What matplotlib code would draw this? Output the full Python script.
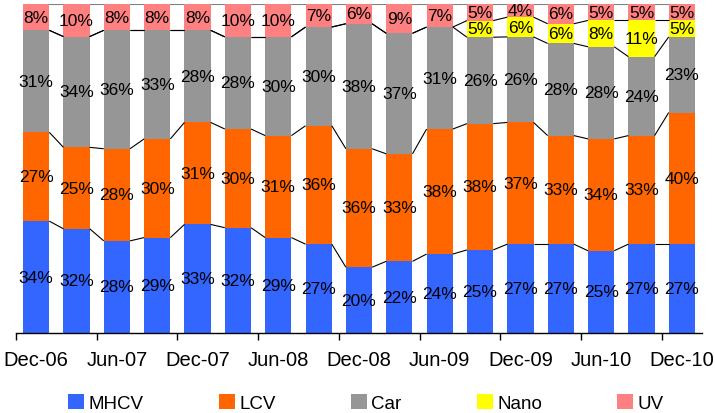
import numpy as np
import matplotlib
matplotlib.use("Agg")
import matplotlib.pyplot as plt
from matplotlib.patches import Patch

plt.rcParams['font.family'] = ['Liberation Sans', 'DejaVu Sans']

periods = ["Dec-06", "Mar-07", "Jun-07", "Sep-07", "Dec-07", "Mar-08", "Jun-08",
           "Sep-08", "Dec-08", "Mar-09", "Jun-09", "Sep-09", "Dec-09", "Mar-10",
           "Jun-10", "Sep-10", "Dec-10"]
mhcv = [34, 32, 28, 29, 33, 32, 29, 27, 20, 22, 24, 25, 27, 27, 25, 27, 27]
lcv  = [27, 25, 28, 30, 31, 30, 31, 36, 36, 33, 38, 38, 37, 33, 34, 33, 40]
car  = [31, 34, 36, 33, 28, 28, 30, 30, 38, 37, 31, 26, 26, 28, 28, 24, 23]
nano = [0, 0, 0, 0, 0, 0, 0, 0, 0, 0, 0, 5, 6, 6, 8, 11, 5]
uv   = [8, 10, 8, 8, 8, 10, 10, 7, 6, 9, 7, 5, 4, 6, 5, 5, 5]

series = [("MHCV", mhcv, "#3366FF"),
          ("LCV", lcv, "#FF6600"),
          ("Car", car, "#969696"),
          ("Nano", nano, "#FFFF00"),
          ("UV", uv, "#FF8080")]

W, H = 715, 414
fig = plt.figure(figsize=(W / 100, H / 100), dpi=100)
ax = fig.add_axes([16 / W, (H - 334) / H, (702 - 16) / W, (334 - 5) / H])

raw = np.array([s[1] for s in series], dtype=float)
shares = raw / raw.sum(axis=0) * 100.0
x = np.arange(len(periods))
width = 0.65

bottom = np.zeros(len(periods))
tops = []
for (name, vals, color), share in zip(series, shares):
    ax.bar(x, share, width, bottom=bottom, color=color, edgecolor="none", zorder=2)
    for xi, b, h, v in zip(x, bottom, share, vals):
        if v > 0:
            ax.text(xi, b + h / 2, f"{v}%", ha="center", va="center",
                    fontsize=12.5, color="black", zorder=4)
    bottom = bottom + share
    tops.append(bottom.copy())

# series lines joining the segment boundaries of neighbouring bars
for k, top in enumerate(tops):
    col = "#808080" if k == len(tops) - 1 else "black"
    lw = 1.5 if k == len(tops) - 1 else 0.8
    for i in range(len(x) - 1):
        ax.plot([x[i] + width / 2, x[i + 1] - width / 2], [top[i], top[i + 1]],
                color=col, lw=lw, zorder=3, solid_capstyle="butt")

ax.set_xlim(-0.5, len(periods) - 0.5)
ax.set_ylim(0, 100)
ax.set_yticks([])
for side in ("left", "right", "top"):
    ax.spines[side].set_visible(False)
ax.spines["bottom"].set_color("black")
ax.spines["bottom"].set_linewidth(1.0)

ax.set_xticks(np.arange(-0.5, len(periods) - 1, 2))
ax.set_xticklabels([])
ax.tick_params(axis="x", which="major", direction="out", length=5, width=1, color="black")
ax.set_xticks(x[::2], minor=True)
ax.set_xticklabels(periods[::2], minor=True, fontsize=14.5)
ax.tick_params(axis="x", which="minor", length=0, pad=12)

handles = [Patch(facecolor=c, edgecolor="none", label=n) for n, _, c in series]
fig.legend(handles=handles, loc="center", bbox_to_anchor=(366 / W, 1 - 404 / H),
           ncol=5, frameon=False, fontsize=13.5, handlelength=0.85,
           handleheight=0.85, handletextpad=0.25, columnspacing=4.0,
           borderaxespad=0, borderpad=0)

fig.savefig("out.png", dpi=100)
